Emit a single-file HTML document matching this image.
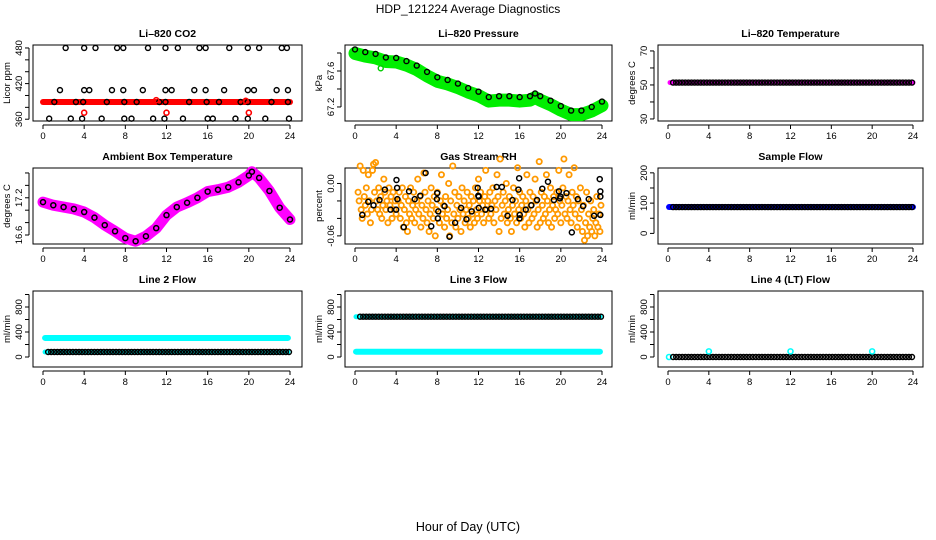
<!DOCTYPE html>
<html><head><meta charset="utf-8"><style>
html,body{margin:0;padding:0;background:#fff}
svg{display:block;font-family:"Liberation Sans",sans-serif}
</style></head><body>
<svg id="chart" width="936" height="540" viewBox="0 0 936 540" xmlns="http://www.w3.org/2000/svg">
<text x="468" y="13" text-anchor="middle" font-size="12">HDP_121224  Average Diagnostics</text>
<text x="468" y="531" text-anchor="middle" font-size="12.5">Hour of Day (UTC)</text>
</svg>
<script>
// ---- data ----
const xTicks = [0,4,8,12,16,20,24];
// CO2
const co2Band = 389;
const co2Hi = [2.2,4.0,5.1,7.2,7.8,10.2,11.9,13.1,15.2,15.8,18.1,19.9,21.0,23.2,23.7];
const co2HiVal = 480;
const co2Mid = [1.65,4.0,4.5,6.7,7.8,9.7,11.9,12.5,14.7,15.8,17.6,19.9,20.5,22.7,23.8];
const co2MidVal = 409;
const co2Band2 = [1.1,3.2,3.9,6.2,7.9,9.1,11.3,11.9,14.2,15.9,17.1,19.2,19.9,22.2,23.8];
const co2Lo = [0.6,2.7,3.8,5.7,7.9,8.6,10.7,11.8,13.6,16.0,16.5,18.7,19.9,21.6,23.9];
const co2LoVal = 361;
const co2RedHours = [4.0,12.0,20.0,11.0,19.7];
const co2RedVals = [371,371,371,392,391];
// Pressure
const presHours = [0,1,2,3,4,5,6,7,8,9,10,11,12,13,14,15,16,17,17.5,18,19,20,21,22,23,24];
const presVals = [67.84,67.81,67.79,67.75,67.745,67.71,67.66,67.59,67.53,67.50,67.46,67.41,67.37,67.31,67.32,67.32,67.31,67.32,67.35,67.32,67.27,67.21,67.16,67.16,67.2,67.26];
// Li-820 temperature
const tempLevel = 51.4;
// Ambient box temperature
const ambHours = [0,1,2,3,4,5,6,7,8,9,10,11,12,13,14,15,16,17,18,19,20,20.3,21,22,23,24];
const ambVals = [17.13,17.08,17.05,17.02,16.97,16.88,16.76,16.66,16.55,16.5,16.58,16.71,16.92,17.05,17.12,17.2,17.3,17.33,17.37,17.45,17.56,17.62,17.52,17.31,17.04,16.85];
// Gas stream RH (black)
const rhHours = [0.71,1.29,1.80,2.38,2.90,3.45,4.0,4.03,4.09,4.12,4.74,5.25,5.80,6.35,6.86,7.41,7.96,7.99,8.05,8.09,8.70,9.18,9.73,10.31,10.83,11.34,11.92,11.98,12.02,12.02,12.66,13.21,13.76,14.27,14.82,15.30,15.88,15.95,16.01,15.98,16.59,17.14,17.69,18.20,18.75,19.33,19.81,19.91,19.97,20.55,21.07,21.65,22.16,22.71,23.23,23.78,23.84,23.84,23.84];
const rhVals = [-0.036,-0.021,-0.025,-0.019,-0.007,-0.030,-0.030,0.004,-0.005,-0.018,-0.050,-0.009,-0.018,-0.014,0.012,-0.049,-0.018,-0.011,-0.040,-0.032,-0.026,-0.061,-0.045,-0.028,-0.041,-0.032,-0.005,-0.014,-0.015,-0.028,-0.030,-0.029,-0.004,-0.004,-0.037,-0.019,-0.007,0.006,-0.036,-0.040,-0.030,-0.025,-0.019,-0.006,0.002,-0.019,-0.009,-0.017,-0.015,-0.011,-0.056,-0.018,-0.026,-0.018,-0.037,0.005,-0.009,-0.015,-0.036];
// Gas stream RH (orange, 1-min)
const rhoHours = [0.3,0.4,0.5,0.6,0.7,0.8,0.9,1.0,1.1,1.2,1.3,1.4,1.5,1.6,1.7,1.8,1.9,2.0,2.1,2.2,2.3,2.4,2.5,2.6,2.7,2.8,2.9,3.0,3.1,3.2,3.3,3.4,3.5,3.6,3.7,3.8,3.9,4.0,4.2,4.3,4.4,4.5,4.6,4.7,4.8,4.9,5.0,5.1,5.2,5.3,5.4,5.5,5.6,5.7,5.8,5.9,6.0,6.1,6.2,6.3,6.4,6.5,6.6,6.7,6.8,6.9,7.0,7.1,7.2,7.3,7.4,7.5,7.6,7.7,7.8,7.9,8.0,8.2,8.3,8.4,8.5,8.6,8.7,8.8,8.9,9.0,9.1,9.2,9.3,9.4,9.5,9.6,9.7,9.8,9.9,10.0,10.1,10.2,10.3,10.4,10.5,10.6,10.7,10.8,10.9,11.0,11.1,11.2,11.3,11.4,11.5,11.6,11.7,11.8,11.9,12.0,12.1,12.2,12.3,12.4,12.5,12.6,12.7,12.8,12.9,13.0,13.1,13.2,13.3,13.4,13.5,13.6,13.7,13.8,13.9,14.0,14.1,14.2,14.3,14.4,14.5,14.6,14.7,14.8,14.9,15.0,15.1,15.2,15.3,15.4,15.5,15.6,15.7,15.8,15.9,16.0,16.1,16.2,16.3,16.4,16.5,16.6,16.7,16.8,16.9,17.0,17.1,17.2,17.3,17.4,17.5,17.6,17.7,17.8,17.9,18.0,18.1,18.2,18.3,18.4,18.5,18.6,18.7,18.8,18.9,19.0,19.1,19.2,19.3,19.4,19.5,19.6,19.7,19.8,19.9,20.0,20.1,20.2,20.3,20.4,20.5,20.6,20.7,20.8,20.9,21.0,21.1,21.2,21.3,21.4,21.5,21.6,21.7,21.8,21.9,22.0,22.1,22.2,22.3,22.4,22.5,22.6,22.7,22.8,22.9,23.0,23.1,23.2,23.3,23.4,23.5,23.6,23.7,23.8,23.9];
const rhoVals = [-0.01,-0.02,0.02,-0.03,-0.04,0.015,-0.015,-0.025,-0.005,-0.035,0.01,-0.02,-0.045,-0.03,0.015,0.022,-0.01,0.024,-0.02,-0.03,-0.005,-0.035,-0.015,-0.04,-0.025,0.005,-0.01,-0.03,-0.02,-0.045,-0.005,-0.025,-0.015,-0.04,-0.01,-0.03,-0.02,-0.035,-0.02,-0.01,-0.04,-0.025,-0.005,-0.05,-0.03,-0.015,-0.045,-0.055,-0.02,-0.035,-0.005,-0.04,-0.025,-0.01,-0.045,-0.03,-0.02,0.005,-0.035,-0.015,-0.05,-0.025,-0.04,0.012,-0.01,-0.03,-0.045,-0.02,-0.055,-0.035,-0.005,-0.025,-0.04,-0.015,-0.06,-0.03,-0.01,-0.045,-0.02,0.01,-0.035,-0.025,-0.05,-0.015,-0.04,-0.03,0.0,-0.06,-0.02,-0.045,0.02,-0.035,-0.01,-0.05,-0.025,-0.04,-0.015,-0.03,-0.055,-0.005,-0.035,-0.02,-0.045,-0.03,-0.01,-0.04,-0.025,-0.05,-0.015,-0.035,-0.02,-0.045,-0.005,-0.03,-0.04,0.005,-0.02,-0.01,-0.035,-0.025,-0.045,-0.015,0.015,-0.03,-0.02,-0.04,-0.01,-0.035,-0.025,-0.005,-0.045,-0.02,-0.03,0.01,-0.015,-0.055,0.028,-0.04,-0.025,-0.01,-0.035,-0.02,0.0,-0.045,-0.03,-0.015,-0.04,-0.055,-0.025,-0.005,-0.035,-0.02,-0.045,0.018,-0.03,-0.01,-0.04,-0.025,-0.015,-0.035,-0.05,-0.02,0.01,-0.03,-0.045,-0.01,-0.025,-0.04,-0.015,-0.035,0.005,-0.02,-0.05,-0.03,0.025,-0.045,-0.01,-0.025,-0.04,-0.015,-0.035,0.01,-0.02,-0.045,-0.03,-0.005,-0.05,-0.025,-0.015,-0.04,-0.03,-0.01,-0.035,0.015,-0.02,-0.045,-0.025,-0.005,0.028,-0.035,-0.015,-0.04,-0.02,0.01,-0.03,-0.045,-0.01,-0.025,0.018,-0.035,-0.015,-0.05,-0.02,-0.04,-0.005,-0.03,-0.055,-0.025,-0.065,-0.045,-0.01,-0.06,-0.035,-0.05,-0.02,-0.055,-0.04,-0.03,-0.06,-0.045,-0.015,-0.05,-0.035,-0.055,-0.025,-0.04,-0.06,-0.02,-0.05,-0.01];
// Sample flow
const sampleLevel = 87;
// Line flows
const line2Cyan = 305, line2Low = 80;
const line3High = 645, line3Low = 85;
const line4Level = 0;
const line4SpikeHours = [4,12,20], line4SpikeVals = [90,90,90];
const sampleHours = [0.5,0.8,1.1,1.4,1.7,2.0,2.3,2.6,2.9,3.2,3.5,3.8,4.1,4.4,4.7,5.0,5.3,5.6,5.9,6.2,6.5,6.8,7.1,7.4,7.7,8.0,8.3,8.6,8.9,9.2,9.5,9.8,10.1,10.4,10.7,11.0,11.3,11.6,11.9,12.2,12.5,12.8,13.1,13.4,13.7,14.0,14.3,14.6,14.9,15.2,15.5,15.8,16.1,16.4,16.7,17.0,17.3,17.6,17.9,18.2,18.5,18.8,19.1,19.4,19.7,20.0,20.3,20.6,20.9,21.2,21.5,21.8,22.1,22.4,22.7,23.0,23.3,23.6,23.9];

// ---- layout ----
const NS = "http://www.w3.org/2000/svg";
const svg = document.getElementById('chart');
const colBox = [[33,302],[345,612],[658,923]];
const colX0 = [43,355,668], colX24 = [290,602,913];
const rowBox = [[45,121],[168,244],[291,367]];
function mk(tag, attrs, parent){const e=document.createElementNS(NS,tag);for(const k in attrs)e.setAttribute(k,attrs[k]);(parent||svg).appendChild(e);return e;}

function panel(col,row,name,title,ylab,ymin,ymax,ticks,labels,fmt){
  const g = mk('g',{});
  
  
  const [L,R]=colBox[col],[T,B]=rowBox[row];
  const x = h => colX0[col] + (colX24[col]-colX0[col])*h/24;
  const y = v => B - (v-ymin)/(ymax-ymin)*(B-T);
  const box = mk('rect',{x:L,y:T,width:R-L,height:B-T,fill:'none',stroke:'#000','stroke-width':1},g);
  
  
  const t = mk('text',{x:(L+R)/2,y:T-8,'text-anchor':'middle','font-size':10.5,'font-weight':'bold'},g);
  t.textContent = title;
  
  
  mk('line',{x1:x(0),x2:x(24),y1:B+4,y2:B+4,stroke:'#000'},g);
  xTicks.forEach(h=>{
    mk('line',{x1:x(h),x2:x(h),y1:B+4,y2:B+8,stroke:'#000'},g);
    const tl = mk('text',{x:x(h),y:B+18,'text-anchor':'middle','font-size':9.5},g);
    tl.textContent = h;
    
    
  });
  mk('line',{x1:L-4,x2:L-4,y1:y(ticks[0]),y2:y(ticks[ticks.length-1]),stroke:'#000'},g);
  ticks.forEach(v=>{ mk('line',{x1:L-8,x2:L-4,y1:y(v),y2:y(v),stroke:'#000'},g); });
  labels.forEach(v=>{
    const tl = mk('text',{x:0,y:0,'text-anchor':'middle','font-size':9.5,transform:`translate(${L-11},${y(v)}) rotate(-90)`},g);
    tl.textContent = fmt(v);
    
    
  });
  const yl = mk('text',{x:0,y:0,'text-anchor':'middle','font-size':9.5,transform:`translate(${L-23},${(T+B)/2}) rotate(-90)`},g);
  yl.textContent = ylab;
  
  
  return {g,x,y};
}
function circ(p,h,v,color,r,w,name){
  const c = mk('circle',{cx:p.x(h),cy:p.y(v),r:r||2.5,fill:'none',stroke:color,'stroke-width':w||1.4},p.g);
  
  
}
function band(p,hs,vs,color,w,off,name){
  const pts = hs.map((h,i)=>p.x(h)+','+(p.y(vs[i])+(off||0))).join(' ');
  const l = mk('polyline',{points:pts,fill:'none',stroke:color,'stroke-width':w,'stroke-linejoin':'round','stroke-linecap':'round'},p.g);
  
  
}
const f0=v=>String(v), f1=v=>v.toFixed(1), f2=v=>v.toFixed(2);

// CO2
let p = panel(0,0,'co2','Li\u2013820 CO2','Licor ppm',357,485,[360,380,400,420,440,460,480],[360,420,480],f0);
band(p,[0,24],[co2Band,co2Band],'#ff0000',6,0,'co2-band');
co2Hi.forEach(h=>circ(p,h,co2HiVal,'#000',2.5,1.4,'co2-point'));
co2Mid.forEach(h=>circ(p,h,co2MidVal,'#000',2.5,1.4,'co2-point'));
co2Band2.forEach(h=>circ(p,h,co2Band,'#000',2.5,1.4,'co2-point'));
co2Lo.forEach(h=>circ(p,h,co2LoVal,'#000',2.5,1.4,'co2-point'));
co2RedHours.forEach((h,i)=>circ(p,h,co2RedVals[i],'#ff0000',2.5,1.6,'co2-red-point'));

// Pressure
p = panel(1,0,'pressure','Li\u2013820 Pressure','kPa',67.044,67.889,[67.2,67.4,67.6,67.8],[67.2,67.6],f1);
band(p,presHours,presVals,'#00ee00',13,4,'pressure-band');
presHours.forEach((h,i)=>circ(p,h,presVals[i],'#000',2.5,1.4,'pressure-point'));
circ(p,2.5,67.63,'#00cc00',2.5,1.4,'pressure-outlier');

// Temperature
p = panel(2,0,'temperature','Li\u2013820 Temperature','degrees C',28.8,73.5,[30,40,50,60,70],[30,50,70],f0);
band(p,[0.2,24],[tempLevel,tempLevel],'#ff00ff',5,0,'temperature-band');
sampleHours.forEach(h=>circ(p,h,tempLevel,'#000',2.5,1.4,'temperature-point'));

// Ambient
p = panel(0,1,'ambient','Ambient Box Temperature','degrees C',16.455,17.68,[16.6,16.8,17.0,17.2,17.4,17.6],[16.6,17.2],f1);
band(p,ambHours,ambVals,'#ff00ff',11,0,'ambient-band');
ambHours.forEach((h,i)=>circ(p,h,ambVals[i],'#000',2.5,1.5,'ambient-point'));

// RH
p = panel(1,1,'rh','Gas Stream RH','percent',-0.0693,0.0177,[-0.06,-0.04,-0.02,0.0],[-0.06,0.0],f2);
rhoHours.forEach((h,i)=>circ(p,h,rhoVals[i],'#ff9900',2.6,1.8,'rh-orange-point'));
rhHours.forEach((h,i)=>circ(p,h,rhVals[i],'#000',2.5,1.5,'rh-point'));

// Sample flow
p = panel(2,1,'sample-flow','Sample Flow','ml/min',-35,216,[0,50,100,150,200],[0,100,200],f0);
band(p,[0.1,24],[sampleLevel,sampleLevel],'#0000ff',6,0,'sample-flow-band');
sampleHours.forEach(h=>circ(p,h,sampleLevel,'#000',2.5,1.4,'sample-flow-point'));

// Line 2
p = panel(0,2,'line2','Line 2 Flow','ml/min',-160,1056,[0,200,400,600,800,1000],[0,400,800],f0);
band(p,[0.2,23.8],[line2Cyan,line2Cyan],'#00ffff',6,0,'line2-cyan-band');
band(p,[0.2,23.8],[line2Low,line2Low],'#00ffff',5,0,'line2-low-band');
sampleHours.forEach(h=>circ(p,h,line2Low,'#000',2.5,1.4,'line2-point'));

// Line 3
p = panel(1,2,'line3','Line 3 Flow','ml/min',-160,1056,[0,200,400,600,800,1000],[0,400,800],f0);
band(p,[0.1,23.8],[line3High,line3High],'#00ffff',5,0,'line3-cyan-band');
band(p,[0.1,23.8],[line3Low,line3Low],'#00ffff',6,0,'line3-low-band');
sampleHours.forEach(h=>circ(p,h,line3High,'#000',2.5,1.4,'line3-point'));

// Line 4
p = panel(2,2,'line4','Line 4 (LT) Flow','ml/min',-160,1056,[0,200,400,600,800,1000],[0,400,800],f0);
circ(p,0.1,line4Level,'#00ffff',2.5,1.6,'line4-cyan-point');
sampleHours.forEach(h=>circ(p,h,line4Level,'#000',2.5,1.4,'line4-point'));
line4SpikeHours.forEach((h,i)=>circ(p,h,line4SpikeVals[i],'#00ffff',2.5,1.6,'line4-spike'));
</script>
</body></html>
